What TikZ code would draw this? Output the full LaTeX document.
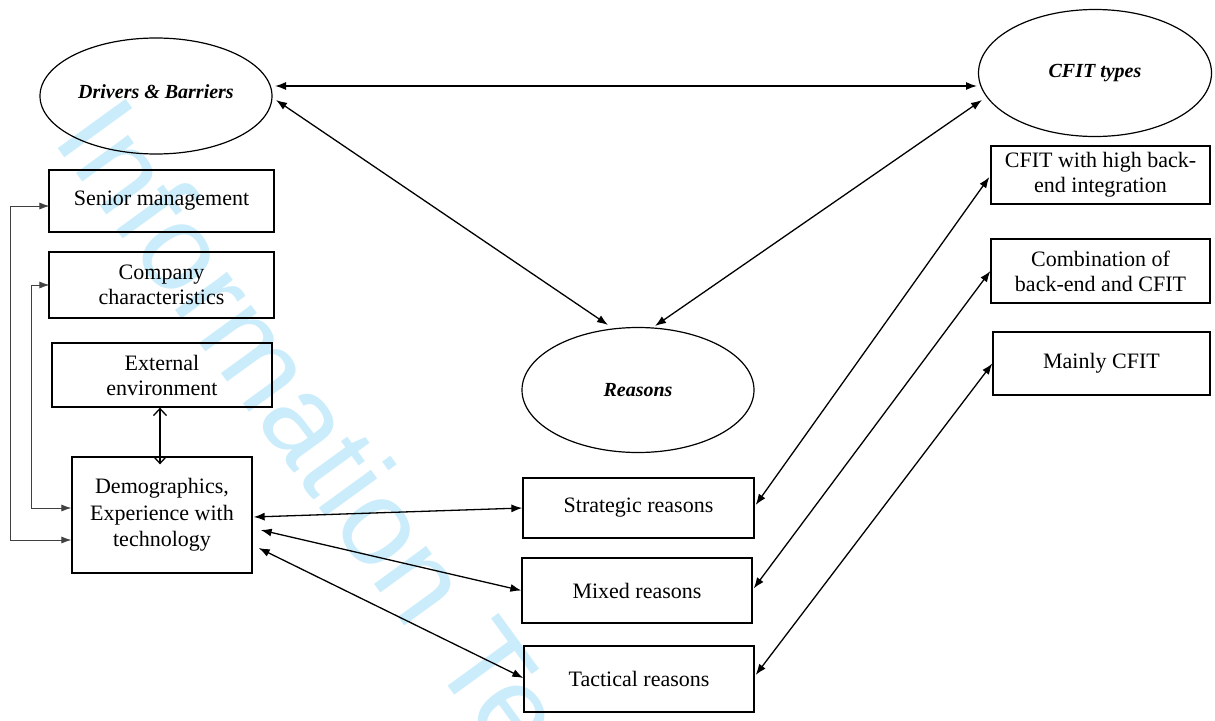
\documentclass[tikz,border=0pt]{standalone}
\usepackage{fontspec}
\setmainfont{Liberation Serif}
\newfontfamily\wmfont{Liberation Sans}
\usetikzlibrary{arrows.meta,shapes.geometric,calc}
\definecolor{wm}{RGB}{203,237,251}
\begin{document}
\begin{tikzpicture}[x=1pt,y=-1pt,
  box/.style={draw,line width=1.3pt,inner sep=0pt,align=center,font=\fontsize{22}{25}\selectfont},
  ell/.style={draw,ellipse,line width=1.2pt,inner sep=0pt,font=\fontsize{20}{24}\selectfont\bfseries\itshape},
  link/.style={line width=1.3pt,{Latex[length=11pt,width=8pt]}-{Latex[length=11pt,width=8pt]}},
  fb/.style={line width=0.8pt,black!75,{Latex[length=10pt,width=7pt]}-{Latex[length=10pt,width=7pt]}},
  barb/.style={line width=1.3pt,{Straight Barb[length=7pt,width=13pt]}-{Straight Barb[length=7pt,width=13pt]}}]
\useasboundingbox (0,0) rectangle (1215,720);
\begin{scope}
  \clip (0,0) rectangle (1215,720);
  \node[text=wm, rotate=-54, anchor=base west, inner sep=0pt,
        font=\wmfont\fontsize{122}{122}\selectfont] (wmk) at (51,139) {Information Technology};
\end{scope}

% ellipses
\node[ell, minimum width=232, minimum height=116] (db) at (156,96) {\raisebox{4pt}[\height][\depth]{Drivers \& Barriers}};
\node[ell, minimum width=233, minimum height=127] (ct) at (1095,73) {CFIT types};
\node[ell, minimum width=232, minimum height=125] (rs) at (638,390) {Reasons};

% left boxes
\node[box, minimum width=225, minimum height=62] (sm) at (161.5,201) {Senior management};
\node[box, minimum width=225, minimum height=66] (cc) at (161.5,285) {Company\\characteristics};
\node[box, minimum width=220, minimum height=64] (ee) at (162,375) {External\\environment};
\node[box, minimum width=180, minimum height=116, font=\fontsize{22}{26.5}\selectfont] (dm) at (162,515) {Demographics,\\Experience with\\technology};

% middle boxes
\node[box, minimum width=231, minimum height=60] (sr) at (638.5,508) {Strategic reasons};
\node[box, minimum width=230, minimum height=65] (mr) at (637,590.5) {Mixed reasons};
\node[box, minimum width=230, minimum height=66] (tr) at (639,679) {Tactical reasons};

% right boxes
\node[box, minimum width=219, minimum height=58] (ch) at (1100.5,175) {CFIT with high back-\\end integration};
\node[box, minimum width=219, minimum height=64] (cb) at (1100.5,271) {Combination of\\back-end and CFIT};
\node[box, minimum width=217, minimum height=63] (mc) at (1101.5,363.5) {Mainly CFIT};

% connectors between ellipses
\draw[link] ($(db.center)+(119,-10)$) -- ($(ct.center)+(-118,13)$);
\draw[link] ($(db.center)+(120,4)$) -- ($(rs.center)+(-30,-65)$);
\draw[link] ($(ct.center)+(-113,27)$) -- ($(rs.center)+(17,-64)$);

% left column
\draw[barb] ($(ee.south)+(-2,0)$) -- ($(dm.north)+(-2,8)$);
\draw[fb] ($(dm.west)+(0,25)$) -- ++(-61,0) |- ($(sm.west)+(1,5)$);
\draw[fb] ($(dm.west)+(0,-7)$) -- ++(-40,0) |- ($(cc.west)+(1,0)$);

% demographics to reasons
\draw[link] ($(dm.east)+(1,2)$) -- (sr.west);
\draw[link] ($(dm.east)+(8,15)$) -- (mr.west);
\draw[link] ($(dm.east)+(6,33)$) -- ($(tr.west)+(0,-1)$);

% reasons to CFIT types
\draw[link] ($(sr.east)+(1,-3)$) -- ($(ch.west)+(-1,2)$);
\draw[link] ($(mr.east)+(1,-2)$) -- (cb.west);
\draw[link] ($(tr.east)+(1,-4)$) -- (mc.west);
\end{tikzpicture}
\end{document}
